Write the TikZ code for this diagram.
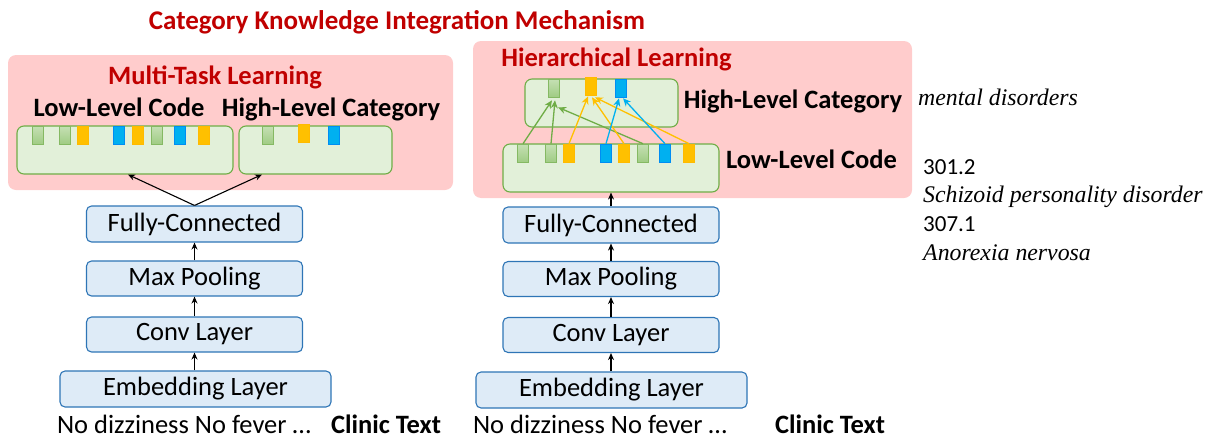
\documentclass[tikz,border=0pt]{standalone}
\usepackage{fontspec}
\setmainfont{Carlito}
\newfontfamily\timesfont{Liberation Serif}
\usetikzlibrary{arrows.meta}
\definecolor{pinkbg}{HTML}{FFCCCC}
\definecolor{titlered}{HTML}{C00000}
\definecolor{gfill}{HTML}{E2F0D9}
\definecolor{gborder}{HTML}{70AD47}
\definecolor{bfill}{HTML}{DEEBF7}
\definecolor{bborder}{HTML}{2E75B6}
\definecolor{yelcol}{HTML}{FFC000}
\definecolor{blucol}{HTML}{00B0F0}
\definecolor{gbarA}{HTML}{C5E0B4}
\definecolor{gbarB}{HTML}{A0CC84}
\begin{document}
\begin{tikzpicture}[x=1pt,y=-1pt,
  layer/.style={draw=bborder, fill=bfill, rounded corners=5pt, line width=1.1pt,
    minimum height=36pt, minimum width=216pt, inner sep=0pt, font=\fontsize{26.5}{30}\selectfont},
  codebox/.style={draw=gborder, fill=gfill, rounded corners=7pt, line width=1.1pt,
    minimum height=48pt, inner sep=0pt},
  panel/.style={fill=pinkbg, rounded corners=8pt},
  gb/.style={draw=gborder!85, top color=gbarA, bottom color=gbarB, minimum width=11.5pt,
    minimum height=18pt, inner sep=0pt, line width=0.6pt},
  yb/.style={draw=yelcol!90!orange, fill=yelcol, minimum width=11.5pt, minimum height=18pt, inner sep=0pt, line width=0.6pt},
  bb/.style={draw=blucol!80!blue, fill=blucol, minimum width=11.5pt, minimum height=18pt, inner sep=0pt, line width=0.6pt},
  arr/.style={-{Stealth[length=7pt,width=6pt]}, line width=1.1pt},
  carr/.style={-{Stealth[length=8pt,width=7pt]}, line width=1.3pt},
  redtitle/.style={text=titlered, font=\fontsize{26.5}{30}\selectfont\bfseries, inner sep=0pt},
  boldlbl/.style={font=\fontsize{26.5}{30}\selectfont\bfseries, inner sep=0pt},
  plain/.style={font=\fontsize{26.5}{30}\selectfont, inner sep=0pt},
  note/.style={font=\fontsize{23}{26}\selectfont, inner sep=0pt},
  noteit/.style={font=\timesfont\itshape\fontsize{23.8}{26}\selectfont, inner sep=0pt}
]
\useasboundingbox (0,0) rectangle (1207,439);

% title
\node[redtitle, font=\fontsize{27}{30}\selectfont\bfseries, anchor=base] (title) at (397,29) {Category Knowledge Integration Mechanism};

% ---------- left panel ----------
\fill[panel] (8,55) rectangle (453,190);
\node[redtitle, anchor=base] (mtl) at (215,84) {Multi-Task Learning};
\node[boldlbl, anchor=base] (llc1) at (119,116) {Low-Level Code};
\node[boldlbl, anchor=base] (hlc1) at (331,116) {High-Level Category};
\node[codebox, minimum width=216pt] (lbox1) at (125,150) {};
\node[codebox, minimum width=153pt] (lbox2) at (315.5,150) {};
\node[gb] (a1) at (38,135) {};
\node[gb] (a2) at (65,135) {};
\node[yb] (a3) at (83,135) {};
\node[bb] (a4) at (119,135) {};
\node[yb] (a5) at (138,135) {};
\node[gb] (a6) at (157,135) {};
\node[bb] (a7) at (180,135) {};
\node[yb] (a8) at (204,135) {};
\node[gb] (c1) at (268,135) {};
\node[yb] (c2) at (304,133) {};
\node[bb] (c3) at (334,135) {};

\node[layer] (lfc) at (194.5,224) {Fully-Connected};
\node[layer, minimum height=35pt] (lmp) at (194.5,278.5) {Max Pooling};
\node[layer, minimum height=35pt] (lcv) at (194.5,334.5) {Conv Layer};
\node[layer, minimum width=271pt] (lem) at (195.5,389) {Embedding Layer};
\node[plain, anchor=base] (ltxt) at (184,433) {No dizziness No fever …};
\node[boldlbl, anchor=base] (lct) at (386,433) {Clinic Text};

\draw[arr] (lem.north -| lcv.south) -- (lcv.south);
\draw[arr] (lcv.north) -- (lmp.south);
\draw[arr] (lmp.north) -- (lfc.south);
\draw[arr] (lfc.north) -- ([xshift=3pt]lbox1.south);
\draw[arr] (lfc.north) -- ([xshift=-53.5pt]lbox2.south);

% ---------- right panel ----------
\fill[panel] (473,41) rectangle (912,198);
\node[redtitle, anchor=base] (hl) at (616.5,66) {Hierarchical Learning};
\node[codebox, minimum width=153pt] (hbox) at (601.5,103) {};
\node[codebox, minimum width=216pt] (lbox) at (611,168) {};
\node[boldlbl, anchor=base] (hlc2) at (793,108) {High-Level Category};
\node[boldlbl, anchor=base] (llc2) at (811.5,168) {Low-Level Code};

\node[gb] (h1) at (554,88) {};
\node[yb] (h2) at (591,86) {};
\node[bb] (h3) at (621,88) {};

\node[gb] (b1) at (523,153) {};
\node[gb] (b2) at (551,153) {};
\node[yb] (b3) at (569,153) {};
\node[bb] (b4) at (606,153) {};
\node[yb] (b5) at (624,153) {};
\node[gb] (b6) at (643,153) {};
\node[bb] (b7) at (665,153) {};
\node[yb] (b8) at (689,153) {};

\draw[carr, color=gborder] (b1.north) -- ([xshift=-2pt,yshift=-3pt]h1.south);
\draw[carr, color=gborder] (b2.north) -- ([xshift=1pt,yshift=-3pt]h1.south);
\draw[carr, color=gborder] (b6.north) -- ([xshift=4pt,yshift=-10pt]h1.south);
\draw[carr, color=yelcol] (b3.north) -- ([xshift=-3pt,yshift=-1pt]h2.south);
\draw[carr, color=yelcol] (b5.north) -- ([xshift=1pt,yshift=-2pt]h2.south);
\draw[carr, color=yelcol] (b8.north) -- ([xshift=4pt,yshift=-2pt]h2.south);
\draw[carr, color=blucol] (b4.north) -- ([xshift=-2pt,yshift=-1pt]h3.south);
\draw[carr, color=blucol] (b7.north) -- ([xshift=2pt,yshift=-1pt]h3.south);

\node[layer] (rfc) at (611,225) {Fully-Connected};
\node[layer, minimum height=35pt] (rmp) at (611,279) {Max Pooling};
\node[layer, minimum height=35pt] (rcv) at (611,335) {Conv Layer};
\node[layer, minimum width=271pt] (rem) at (611.5,390) {Embedding Layer};
\node[plain, anchor=base] (rtxt) at (600,433) {No dizziness No fever …};
\node[boldlbl, anchor=base] (rct) at (830,433) {Clinic Text};

\draw[arr] (rem.north -| rcv.south) -- (rcv.south);
\draw[arr] (rcv.north) -- (rmp.south);
\draw[arr] (rmp.north) -- (rfc.south);
\draw[arr] (rfc.north) -- (lbox.south);

% ---------- annotations ----------
\node[noteit, anchor=base west] (md) at (918,105) {mental disorders};
\node[note, anchor=base west] (n1) at (923,174) {301.2};
\node[noteit, anchor=base west] (n1t) at (923,202) {Schizoid personality disorder};
\node[note, anchor=base west] (n2) at (923,231) {307.1};
\node[noteit, anchor=base west] (n2t) at (923,260) {Anorexia nervosa};
\end{tikzpicture}
\end{document}
